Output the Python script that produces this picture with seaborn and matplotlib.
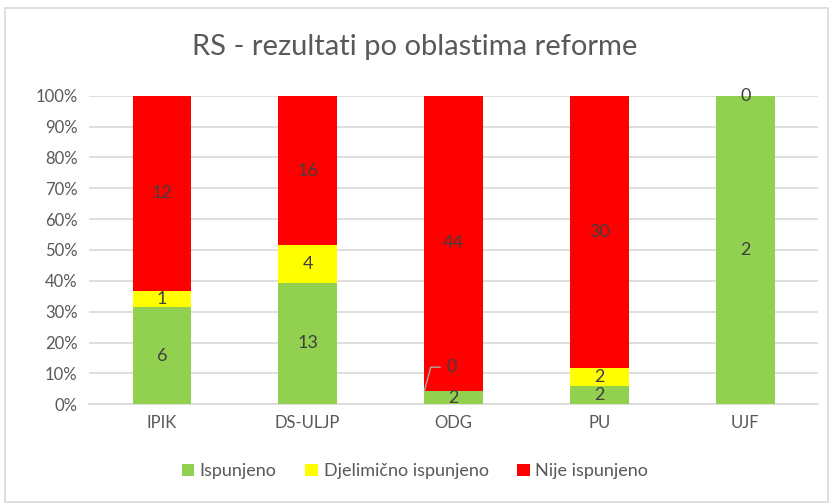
import numpy as np
import pandas as pd
import matplotlib.pyplot as plt
import seaborn as sns
from matplotlib.patches import Patch, Rectangle

categories = ['IPIK', 'DS-ULJP', 'ODG', 'PU', 'UJF']
ispunjeno = [6, 13, 2, 2, 2]
djelimicno = [1, 4, 0, 2, 0]
nije = [12, 16, 44, 30, 0]
series_names = ['Ispunjeno', 'Djelimično ispunjeno', 'Nije ispunjeno']
colors = ['#92d050', '#ffff00', '#ff0000']
title = 'RS - rezultati po oblastima reforme'


def main():
    sns.set_theme(style='white')
    plt.rcParams['font.family'] = ['Lato', 'DejaVu Sans']
    text_col = '#595959'

    counts = np.array([ispunjeno, djelimicno, nije], dtype=float)
    totals = counts.sum(axis=0)
    pct = counts / totals * 100
    cum = np.cumsum(pct, axis=0)

    fig = plt.figure(figsize=(8.3, 5.04), dpi=100)
    fig.patches.append(Rectangle((0.006, 0.004), 0.992, 0.98, transform=fig.transFigure,
                                 fill=False, edgecolor='#d9d9d9', linewidth=1.2))
    ax = fig.add_axes([0.107, 0.198, 0.879, 0.612])

    # stacked bars: draw the tallest (cumulative) first, then overlay
    for i in reversed(range(3)):
        df = pd.DataFrame({'cat': categories, 'val': cum[i]})
        sns.barplot(data=df, x='cat', y='val', color=colors[i], width=0.4,
                    saturation=1, linewidth=0, ax=ax, zorder=3)

    # data labels
    seen = set()
    for j, cat in enumerate(categories):
        for i in range(3):
            lo = cum[i - 1][j] if i > 0 else 0
            mid = (lo + cum[i][j]) / 2
            val = int(counts[i][j])
            key = (j, round(mid, 3))
            if key in seen:
                continue
            seen.add(key)
            if val == 0 and cum[i][j] < 99:
                # moved label with leader line
                ax.annotate(str(val), xy=(j - 0.2, mid), xytext=(j - 0.05, 12),
                            ha='left', va='center', fontsize=13, color='#404040',
                            arrowprops=dict(arrowstyle='-', color='#a6a6a6', lw=1,
                                            connectionstyle='angle,angleA=0,angleB=75,rad=0',
                                            shrinkA=2, shrinkB=0),
                            zorder=5)
            else:
                ax.text(j, mid, str(val), ha='center', va='center', fontsize=13,
                        color='#404040', zorder=5)

    ax.set_ylim(0, 100)
    ax.set_xlim(-0.5, len(categories) - 0.5)
    ax.set_yticks(np.arange(0, 101, 10))
    ax.set_yticklabels([f'{v}%' for v in range(0, 101, 10)])
    ax.yaxis.grid(True, color='#d9d9d9', linewidth=1.2, zorder=0)
    ax.set_axisbelow(True)
    for s in ['top', 'right', 'left']:
        ax.spines[s].set_visible(False)
    ax.spines['bottom'].set_color('#d9d9d9')
    ax.spines['bottom'].set_linewidth(1.2)
    ax.tick_params(axis='both', length=0, labelsize=12, labelcolor=text_col, pad=8)
    ax.set_xlabel('')
    ax.set_ylabel('')

    fig.text(0.5, 0.907, title, ha='center', va='center', fontsize=21, color=text_col)

    handles = [Patch(facecolor=c, edgecolor='none', label=n) for c, n in zip(colors, series_names)]
    fig.legend(handles=handles, loc='center', bbox_to_anchor=(0.5, 0.065), ncol=3,
               frameon=False, fontsize=13, handlelength=0.7, handleheight=0.7,
               handletextpad=0.3, columnspacing=1.6, labelcolor=text_col)

    fig.savefig('out.png', dpi=100)


if __name__ == '__main__':
    main()
